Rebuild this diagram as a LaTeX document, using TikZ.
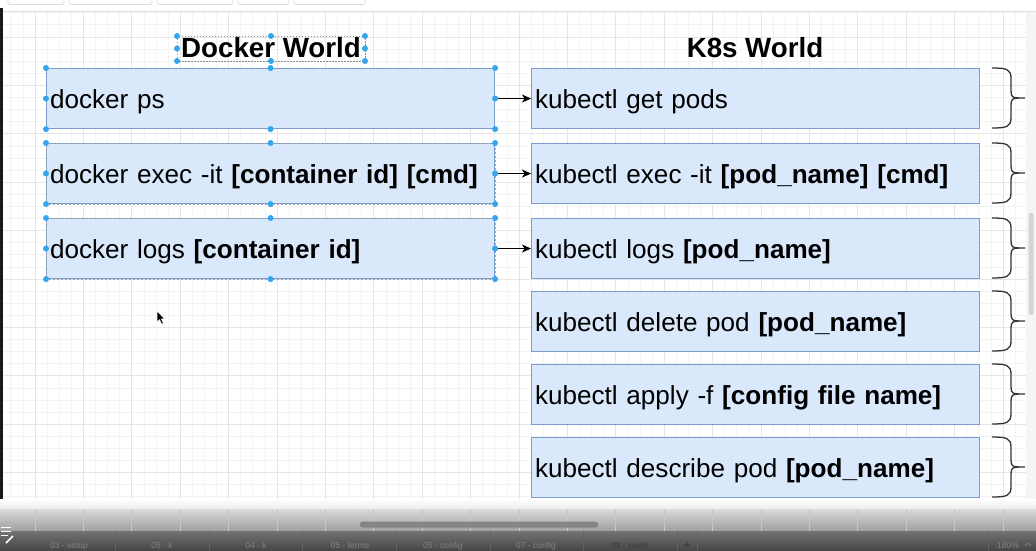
\documentclass[tikz,border=0pt]{standalone}
\usepackage{fontspec}
\setmainfont{Liberation Sans}
\usetikzlibrary{arrows.meta}
\definecolor{boxfill}{HTML}{DAE8FC}
\definecolor{boxline}{HTML}{7C9CCB}
\definecolor{handle}{HTML}{35A6EE}
\definecolor{gridminor}{HTML}{F3F3F3}
\definecolor{gridmajor}{HTML}{E6E6E6}
\definecolor{tabtext}{HTML}{838383}
\begin{document}
\begin{tikzpicture}[x=1pt,y=-1pt,
  cmdbox/.style={draw=boxline, fill=boxfill, line width=1.1pt, anchor=north west,
    minimum width=448pt, minimum height=60pt, inner xsep=3.5pt, inner ysep=0pt,
    text width=441pt, align=left, font=\fontsize{26.1}{30}\selectfont,
    text height=25pt, text depth=4.4pt},
  titletext/.style={font=\fontsize{27.7}{32}\selectfont\bfseries, anchor=base, inner sep=0pt},
  conn/.style={line width=1.2pt, -{Stealth[length=9pt,width=8pt,inset=2.5pt]}},
  bracestyle/.style={line width=1.3pt, draw=black!80},
  hdot/.style={fill=handle},
  tablabel/.style={font=\fontsize{8.5}{10}\selectfont, text=tabtext, anchor=base, inner sep=0pt}]
\useasboundingbox (0,0) rectangle (1036,551);
% canvas
\fill[white] (0,0) rectangle (1036,551);
% grid
\foreach \i in {0,...,83} \draw[gridminor, line width=0.6pt] ({10.7+12.1*\i},12) -- ({10.7+12.1*\i},505);
\foreach \j in {0,...,40} \draw[gridminor, line width=0.6pt] (3,{12.7+12.1*\j}) -- (1026,{12.7+12.1*\j});
\foreach \i in {0,...,20} \draw[gridmajor, line width=0.7pt] ({34.9+48.4*\i},12) -- ({34.9+48.4*\i},505);
\foreach \j in {0,...,9} \draw[gridmajor, line width=0.7pt] (3,{36.9+48.4*\j}) -- (1026,{36.9+48.4*\j});
% toolbar top
\fill[white] (0,0) rectangle (1036,11.5);
\draw[black!12, line width=0.6pt] (0,11.7) -- (1036,11.7);
\foreach \a/\b in {8/64,69/152,157/233,238/289,294/365}
  \draw[black!15, line width=0.6pt, rounded corners=2pt] (\a,-3) rectangle (\b,4.5);
% left dark edge and right strip
\fill[black!90] (0,8) rectangle (3,510);
\fill[black!4] (1026,12) rectangle (1036,505);
\fill[black!17, rounded corners=2pt] (1028.5,213) rectangle (1033.5,315);

% titles
\node[titletext] (dw) at (271,58) {Docker World};
\node[titletext] (kw) at (755,58) {K8s World};
\draw[black!45, line width=0.6pt, dash pattern=on 1.5pt off 1.5pt] (177,36) rectangle (365,61);
\foreach \x in {177,271,365} \foreach \y in {36,61} \fill[hdot] (\x,\y) circle (3pt);
\fill[hdot] (177,48.5) circle (3pt);
\fill[hdot] (365,48.5) circle (3pt);

% docker boxes
\node[cmdbox] (d1) at (46,68) {docker ps};
\node[cmdbox] (d2) at (46,143) {docker exec -it \textbf{[container id] [cmd]}};
\node[cmdbox] (d3) at (46,218) {docker logs \textbf{[container id]}};

% k8s boxes
\node[cmdbox] (k1) at (531,68) {kubectl get pods};
\node[cmdbox] (k2) at (531,143) {kubectl exec -it \textbf{[pod\_name] [cmd]}};
\node[cmdbox] (k3) at (531,218) {kubectl logs \textbf{[pod\_name]}};
\node[cmdbox] (k4) at (531,291) {kubectl delete pod \textbf{[pod\_name]}};
\node[cmdbox] (k5) at (531,364) {kubectl apply -f \textbf{[config file name]}};
\node[cmdbox] (k6) at (531,437) {kubectl describe pod \textbf{[pod\_name]}};

% selection overlay on docker boxes
\foreach \n in {d2,d3}
  \draw[black!35, line width=0.5pt, dash pattern=on 2pt off 2pt] (\n.north west) rectangle (\n.south east);

% connectors
\draw[conn] (d1.east) -- (k1.west);
\draw[conn] (d2.east) -- (k2.west);
\draw[conn] (d3.east) -- (k3.west);

% handles
\foreach \n in {d1,d2,d3}
  \foreach \a in {north west,north,north east,west,east,south west,south,south east}
    \fill[hdot] (\n.\a) circle (3pt);

% braces
\foreach \a/\b in {68/128,143/203,218/278,291/351,364/424,437/497}{
  \pgfmathsetmacro\m{(\a+\b)/2}
  \draw[bracestyle] (992,\a) .. controls (1006,\a) and (1011,{\a+1}) .. (1011,{\a+10})
     -- (1011,{\m-7}) .. controls (1011,{\m-1}) and (1013,\m) .. (1019,\m) -- (1025,\m);
  \draw[bracestyle] (1019,\m) .. controls (1013,\m) and (1011,{\m+1}) .. (1011,{\m+7})
     -- (1011,{\b-10}) .. controls (1011,{\b-1}) and (1006,\b) .. (992,\b);
}

% mouse cursor
\filldraw[fill=black, draw=white, line width=0.5pt]
  (157,311) -- (157,322) -- (159.6,319.6) -- (161.6,324.2) -- (163.3,323.4) -- (161.3,318.9) -- (164.6,318.9) -- cycle;

% bottom fade and tab bar
\shade[top color=white, bottom color=black!8] (0,499) rectangle (1036,509);
\shade[top color=black!14, bottom color=black!38] (0,509) rectangle (1036,531);
\foreach \i in {0,...,20} \draw[black!22, line width=0.6pt] ({34.9+48.4*\i},509) -- ({34.9+48.4*\i},531);
\fill[black!48, rounded corners=2.5pt] (360,521.5) rectangle (598,527.5);
\shade[top color=black!55, bottom color=black!73] (0,531) rectangle (1036,551);
\foreach \x in {115,209,302,396,490,583,677,697,988}
  \draw[black!62, line width=0.6pt] (\x,531) -- (\x,551);
\node[tablabel] (t1) at (69,548) {03 - setup};
\node[tablabel] (t2) at (162,548) {05 - k};
\node[tablabel] (t3) at (256,548) {04 - k};
\node[tablabel] (t4) at (350,548) {05 - terms};
\node[tablabel] (t5) at (443,548) {05 - config};
\node[tablabel] (t6) at (536,548) {07 - config};
\node[tablabel, text=black!75, font=\fontsize{8.5}{10}\selectfont\bfseries] (t7) at (630,548) {08 - pods};
\node[tablabel, text=black!78, font=\fontsize{13}{14}\selectfont] (t8) at (687,549) {+};
\node[tablabel] (t9) at (1008,548) {180\%};
\draw[tabtext, line width=0.7pt] (1025,546) -- (1028,543) -- (1031,546);
% left bottom icon
\foreach \y/\w in {527/11,531/11,535/8} \draw[white, line width=1pt] (1,\y) -- (\w,\y);
\draw[white, line width=1.6pt] (6,543) -- (13,536);
\end{tikzpicture}
\end{document}
